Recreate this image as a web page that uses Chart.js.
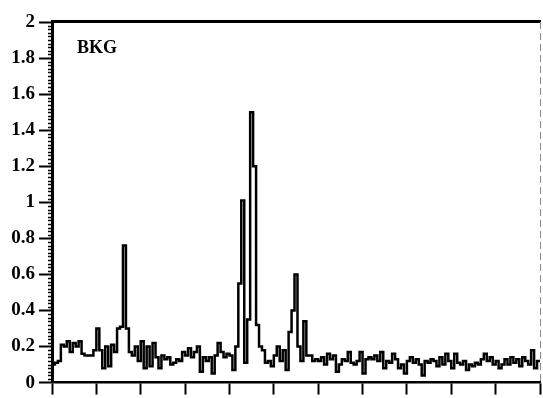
<!DOCTYPE html>
<html>
<head>
<meta charset="utf-8">
<title>BKG</title>
<script src="https://cdn.jsdelivr.net/npm/chart.js@4.4.1/dist/chart.umd.min.js"></script>
<style>
  html, body { margin: 0; padding: 0; background: #fff; }
  canvas { display: block; }
</style>
</head>
<body>
<canvas id="chartBkg" width="543" height="398"></canvas>
<script>
// espectro de fondo, un valor por canal
const conteos = [
    0.10, 0.11, 0.12, 0.21, 0.20, 0.23, 0.17, 0.22, 0.20, 0.23,
    0.16, 0.15, 0.15, 0.15, 0.18, 0.30, 0.18, 0.08, 0.20, 0.09,
    0.21, 0.17, 0.30, 0.31, 0.76, 0.30, 0.17, 0.15, 0.20, 0.12,
    0.23, 0.08, 0.20, 0.09, 0.22, 0.14, 0.08, 0.15, 0.13, 0.14,
    0.10, 0.11, 0.13, 0.12, 0.17, 0.15, 0.19, 0.14, 0.17, 0.20,
    0.06, 0.14, 0.12, 0.14, 0.05, 0.15, 0.22, 0.17, 0.14, 0.16,
    0.15, 0.07, 0.20, 0.55, 1.01, 0.11, 0.35, 1.50, 1.20, 0.32,
    0.20, 0.18, 0.11, 0.12, 0.09, 0.15, 0.20, 0.12, 0.18, 0.07,
    0.28, 0.40, 0.60, 0.20, 0.12, 0.34, 0.15, 0.15, 0.12, 0.13,
    0.12, 0.14, 0.10, 0.16, 0.13, 0.15, 0.06, 0.10, 0.13, 0.12,
    0.17, 0.11, 0.10, 0.12, 0.17, 0.05, 0.13, 0.14, 0.13, 0.15,
    0.12, 0.17, 0.08, 0.12, 0.11, 0.16, 0.13, 0.08, 0.10, 0.05,
    0.12, 0.14, 0.11, 0.13, 0.10, 0.04, 0.12, 0.11, 0.13, 0.12,
    0.09, 0.14, 0.10, 0.16, 0.12, 0.08, 0.16, 0.11, 0.10, 0.12,
    0.07, 0.10, 0.09, 0.11, 0.10, 0.13, 0.16, 0.12, 0.14, 0.10,
    0.12, 0.08, 0.10, 0.13, 0.10, 0.14, 0.11, 0.13, 0.09, 0.14,
    0.12, 0.10, 0.18, 0.08, 0.12
]
const yTickLabels = ['0', '0.2', '0.4', '0.6', '0.8', '1', '1.2', '1.4', '1.6', '1.8', '2']
const etiqueta = 'BKG'

const nCanales = conteos.length
const pasoX = 15      // una marca del eje x cada 15 canales
const pasoY = 0.2
const pasoMenorY = 0.02

const fuente = "'Liberation Serif', 'Times New Roman', serif"

// cada canal es un escalon: el punto i mantiene su valor hasta i + 1
const puntos = conteos.map((v, i) => ({ x: i, y: v }))
puntos.push({ x: nCanales, y: conteos[nCanales - 1] })

const marcoPlugin = {
    id: 'marco',
    afterDraw(chart) {
        const { ctx, chartArea, scales } = chart
        const y = scales.y
        ctx.save()

        // marcas menores del eje y
        ctx.strokeStyle = '#000'
        ctx.lineWidth = 1.5
        for (let v = 0; v <= 2.0001; v += pasoMenorY) {
            const r = Math.round(v * 100) / 100
            if (Math.abs(r / pasoY - Math.round(r / pasoY)) < 1e-6) continue
            const py = Math.round(y.getPixelForValue(r)) + 0.5
            ctx.beginPath()
            ctx.moveTo(chartArea.left - 4, py)
            ctx.lineTo(chartArea.left, py)
            ctx.stroke()
        }

        // borde superior grueso
        ctx.lineWidth = 3
        ctx.beginPath()
        ctx.moveTo(chartArea.left - 1, chartArea.top - 0.5)
        ctx.lineTo(chartArea.right + 1, chartArea.top - 0.5)
        ctx.stroke()

        // borde derecho punteado
        ctx.strokeStyle = '#8a8a8a'
        ctx.lineWidth = 1
        ctx.setLineDash([7, 4])
        ctx.beginPath()
        ctx.moveTo(chartArea.right + 0.5, chartArea.top)
        ctx.lineTo(chartArea.right + 0.5, chartArea.bottom)
        ctx.stroke()
        ctx.setLineDash([])

        // etiqueta del espectro
        ctx.fillStyle = '#000'
        ctx.font = `bold 18px ${fuente}`
        ctx.textAlign = 'left'
        ctx.textBaseline = 'alphabetic'
        ctx.fillText(etiqueta, chartArea.left + 25, chartArea.top + 31)

        ctx.restore()
    }
}

const canvas = document.getElementById('chartBkg')
const context = canvas.getContext('2d')

const chartBkg = new Chart(context, {
    type: 'line',
    data: {
        datasets: [
            {
                label: etiqueta,
                data: puntos,
                stepped: 'before',
                borderColor: '#000',
                borderWidth: 2.5,
                pointRadius: 0,
                fill: false
            }
        ]
    },
    options: {
        responsive: false,
        animation: false,
        layout: {
            padding: { top: 22, right: 3, left: 0, bottom: 0 }
        },
        plugins: {
            legend: { display: false },
            tooltip: { enabled: false }
        },
        scales: {
            x: {
                type: 'linear',
                min: 0,
                max: nCanales,
                afterFit: (scale) => { scale.height = 10 },
                ticks: {
                    stepSize: pasoX,
                    display: false
                },
                grid: {
                    drawOnChartArea: false,
                    drawTicks: true,
                    tickLength: 12,
                    tickWidth: 2,
                    tickColor: '#000'
                },
                border: { display: true, color: '#000', width: 2.5 }
            },
            y: {
                min: 0,
                max: 2,
                afterFit: (scale) => { scale.width = 52 },
                ticks: {
                    stepSize: pasoY,
                    padding: 4,
                    color: '#000',
                    font: { family: fuente, size: 19, weight: 'bold' },
                    callback: (value) => yTickLabels[Math.round(value / pasoY)]
                },
                grid: {
                    drawOnChartArea: false,
                    drawTicks: true,
                    tickLength: 13,
                    tickWidth: 2,
                    tickColor: '#000'
                },
                border: { display: true, color: '#000', width: 3 }
            }
        }
    },
    plugins: [marcoPlugin]
})
</script>
</body>
</html>
